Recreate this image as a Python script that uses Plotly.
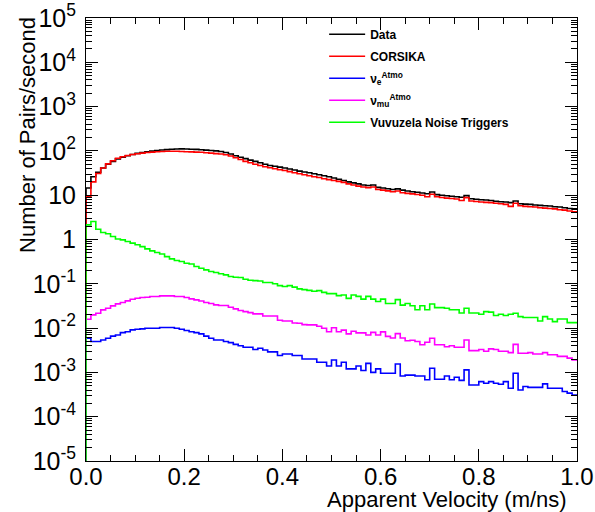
import plotly.graph_objects as go

# ---------------- data ----------------
bin_edges = [round(i * 0.01, 2) for i in range(101)]

data_rate = [
    14.5, 26, 33, 41, 50, 58, 66, 72, 78, 83,
    88, 92, 96, 99, 102, 105, 107, 109, 110, 111,
    110, 109, 108, 106, 104, 102, 100, 97, 92, 85,
    78, 72, 67, 62, 58, 54, 50, 47, 45, 43,
    41, 39, 37, 35, 33.5, 32, 30.5, 29, 27.5, 26,
    24.5, 23, 21.5, 20, 19, 18, 17, 16.5, 17, 15,
    14.5, 14, 13.5, 13.9, 13, 12.4, 12, 11.7, 11.2, 10.8,
    11.8, 10.3, 10, 9.7, 9.5, 9.2, 9, 9.8, 8.3, 8.1,
    7.9, 7.8, 7.6, 7.3, 7.1, 7, 6.8, 7.4, 6.4, 6.3,
    6.2, 6, 5.9, 5.8, 5.7, 5.5, 5.4, 5.2, 5, 4.8,
]

corsika_rate = [
    9.4, 20, 31, 41, 51, 60, 68, 74, 79, 83,
    86, 89, 92, 94, 96, 97, 98, 98, 98, 97,
    96, 95, 94, 93, 91, 89, 87, 85, 82, 77,
    70, 64, 58, 54, 50, 47, 44, 41.5, 39.5, 37.5,
    36, 34, 32, 30.5, 29, 27.5, 26, 25, 23.5, 22.5,
    21.5, 20.5, 19.5, 18, 17, 16, 15.3, 14.8, 15.3, 13.5,
    13, 12.5, 12, 12.4, 11.4, 11, 10.7, 10.4, 10, 9.2,
    10.5, 9.2, 8.9, 8.6, 8.4, 8.2, 7.6, 8.8, 7.4, 7.2,
    7, 6.9, 6.8, 6.6, 6.4, 6.2, 5.6, 6.6, 5.8, 5.6,
    5.5, 5.4, 5.2, 5.1, 5, 4.9, 4.7, 4.6, 4.4, 4.2,
]

nue_rate = [
    0.0059, 0.0050, 0.0050, 0.0054, 0.0059, 0.0066, 0.0070, 0.0079, 0.0083, 0.0091,
    0.0094, 0.0096, 0.0099, 0.0099, 0.0099, 0.0103, 0.0103, 0.0103, 0.0099, 0.0094,
    0.0088, 0.0083, 0.0079, 0.0074, 0.0066, 0.0059, 0.0054, 0.0054, 0.0050, 0.0047,
    0.0043, 0.0040, 0.0037, 0.0037, 0.0033, 0.0035, 0.0032, 0.0029, 0.0029, 0.0024,
    0.0026, 0.0026, 0.0024, 0.0024, 0.0020, 0.0020, 0.0020, 0.0017, 0.0017, 0.0014,
    0.0019, 0.0014, 0.0017, 0.0012, 0.0012, 0.0014, 0.0011, 0.0016, 0.0010, 0.0012,
    0.00096, 0.00096, 0.00096, 0.00155, 0.00083, 0.00087, 0.00087, 0.00083, 0.00083, 0.00068,
    0.00124, 0.00070, 0.00070, 0.00083, 0.00068, 0.00078, 0.00066, 0.00114, 0.00052, 0.00052,
    0.00062, 0.00057, 0.00062, 0.00057, 0.00054, 0.00062, 0.00044, 0.00096, 0.00040, 0.00048,
    0.00046, 0.00046, 0.00046, 0.00055, 0.00044, 0.00044, 0.00044, 0.00037, 0.00034, 0.00031,
]

numu_rate = [
    0.0158, 0.0199, 0.0217, 0.0258, 0.0281, 0.0317, 0.0352, 0.0377, 0.0411, 0.0449,
    0.0473, 0.0490, 0.0498, 0.0515, 0.0515, 0.0533, 0.0533, 0.0533, 0.0515, 0.0515,
    0.0490, 0.0457, 0.0434, 0.0410, 0.0377, 0.0360, 0.0334, 0.0323, 0.0323, 0.0296,
    0.0272, 0.0249, 0.0235, 0.0224, 0.0209, 0.0209, 0.0188, 0.0188, 0.0188, 0.0150,
    0.0145, 0.0145, 0.0130, 0.0129, 0.0120, 0.0118, 0.0118, 0.0110, 0.0099, 0.0083,
    0.0102, 0.0083, 0.0090, 0.0074, 0.0085, 0.0078, 0.0078, 0.0070, 0.0080, 0.0070,
    0.0082, 0.0065, 0.0060, 0.0075, 0.0060, 0.0052, 0.0053, 0.0050, 0.0042, 0.0048,
    0.0059, 0.0042, 0.0042, 0.0038, 0.0040, 0.0037, 0.0037, 0.0054, 0.0031, 0.0031,
    0.0033, 0.0030, 0.0034, 0.0033, 0.0030, 0.0030, 0.0028, 0.0043, 0.0027, 0.0027,
    0.0028, 0.0026, 0.0026, 0.0028, 0.0025, 0.0025, 0.0023, 0.0023, 0.0021, 0.0019,
]

noise_rate = [
    2.14, 2.55, 1.71, 1.44, 1.35, 1.17, 1.03, 0.98, 0.90, 0.83,
    0.76, 0.69, 0.615, 0.555, 0.51, 0.47, 0.41, 0.365, 0.335, 0.318,
    0.29, 0.28, 0.245, 0.225, 0.206, 0.189, 0.18, 0.168, 0.159, 0.146,
    0.141, 0.139, 0.127, 0.12, 0.118, 0.116, 0.107, 0.107, 0.10, 0.091,
    0.087, 0.091, 0.084, 0.077, 0.074, 0.071, 0.068, 0.070, 0.064, 0.060,
    0.060, 0.054, 0.056, 0.047, 0.056, 0.052, 0.045, 0.052, 0.045, 0.040,
    0.045, 0.036, 0.036, 0.044, 0.033, 0.036, 0.032, 0.026, 0.032, 0.026,
    0.035, 0.029, 0.029, 0.028, 0.026, 0.026, 0.022, 0.028, 0.022, 0.022,
    0.0206, 0.0236, 0.0229, 0.0192, 0.0206, 0.0192, 0.0206, 0.0217, 0.0182, 0.0173,
    0.0173, 0.0173, 0.0145, 0.0182, 0.0161, 0.0140, 0.0161, 0.0161, 0.0133, 0.0133,
]

series_names = [
    "Data",
    "CORSIKA",
    "ν<sub>e</sub><sup>Atmo</sup>",
    "ν<sub>mu</sub><sup>Atmo</sup>",
    "Vuvuzela Noise Triggers",
]
series_colors = ["#000000", "#ff0000", "#0000ff", "#ff00ff", "#00ff00"]
series_values = [data_rate, corsika_rate, nue_rate, numu_rate, noise_rate]

Y_MIN_EXP, Y_MAX_EXP = -5, 5
y_tick_vals = [10.0 ** e for e in range(Y_MIN_EXP, Y_MAX_EXP + 1)]
y_tick_text = ["10<sup>-5</sup>", "10<sup>-4</sup>", "10<sup>-3</sup>", "10<sup>-2</sup>",
               "10<sup>-1</sup>", "1", "10", "10<sup>2</sup>", "10<sup>3</sup>",
               "10<sup>4</sup>", "10<sup>5</sup>"]
y_minor_vals = [m * 10.0 ** e for e in range(Y_MIN_EXP, Y_MAX_EXP) for m in range(2, 10)]

x_tick_vals = [0.0, 0.2, 0.4, 0.6, 0.8, 1.0]
x_tick_text = ["0.0", "0.2", "0.4", "0.6", "0.8", "1.0"]
x_minor_vals = [round(i * 0.05, 2) for i in range(21)]

# ---------------- figure ----------------
FONT = "Liberation Sans, Arial, Helvetica, sans-serif"
y_floor = 10.0 ** Y_MIN_EXP


def step_xy(vals):
    xs = [bin_edges[0]] + bin_edges[:-1] + [bin_edges[-1]]
    ys = [y_floor] + list(vals) + [vals[-1]]
    return xs, ys


fig = go.Figure()
for i, (name, col, vals) in enumerate(zip(series_names, series_colors, series_values)):
    xs, ys = step_xy(vals)
    fig.add_trace(go.Scatter(
        x=xs, y=ys, mode="lines", name=name,
        line=dict(color=col, width=1.6, shape="hv"),
        legendgroup=f"g{i}",
    ))

fig.update_layout(
    width=595, height=512,
    margin=dict(l=86, r=18, t=18, b=51, autoexpand=False),
    paper_bgcolor="white", plot_bgcolor="white",
    font=dict(family=FONT, color="black"),
    showlegend=True,
    legend=dict(
        x=0.485, y=0.996, xanchor="left", yanchor="top",
        bgcolor="rgba(0,0,0,0)", borderwidth=0,
        font=dict(family=FONT, size=12, weight="bold", color="black"),
        tracegroupgap=3, itemwidth=36,
    ),
    xaxis=dict(
        range=[0, 1], showgrid=False, zeroline=False, automargin=False,
        showline=True, linecolor="black", linewidth=1, mirror="allticks",
        ticks="inside", ticklen=12, tickcolor="black", tickwidth=1,
        tickvals=x_tick_vals, ticktext=x_tick_text,
        tickfont=dict(family=FONT, size=24),
        ticklabelstandoff=-6,
        minor=dict(tickvals=x_minor_vals, ticks="inside", ticklen=6,
                   tickcolor="black", tickwidth=1, showgrid=False),
    ),
    yaxis=dict(
        type="log", range=[Y_MIN_EXP, Y_MAX_EXP], showgrid=False, zeroline=False,
        automargin=False,
        showline=True, linecolor="black", linewidth=1, mirror="allticks",
        ticks="inside", ticklen=12, tickcolor="black", tickwidth=1,
        tickvals=y_tick_vals, ticktext=y_tick_text,
        tickfont=dict(family=FONT, size=25),
        ticklabelstandoff=4,
        minor=dict(tickvals=y_minor_vals, ticks="inside", ticklen=6,
                   tickcolor="black", tickwidth=1, showgrid=False),
    ),
    annotations=[
        dict(text="Apparent Velocity (m/ns)", xref="paper", yref="paper",
             x=0.982, y=-0.088, xanchor="right", yanchor="middle",
             borderpad=0, showarrow=False, font=dict(family=FONT, size=22)),
        dict(text="Number of Pairs/second", xref="paper", yref="paper",
             x=-0.118, y=1.007, xanchor="center", yanchor="top", textangle=-90,
             showarrow=False, font=dict(family=FONT, size=22)),
    ],
)

fig.write_html("out.html")
